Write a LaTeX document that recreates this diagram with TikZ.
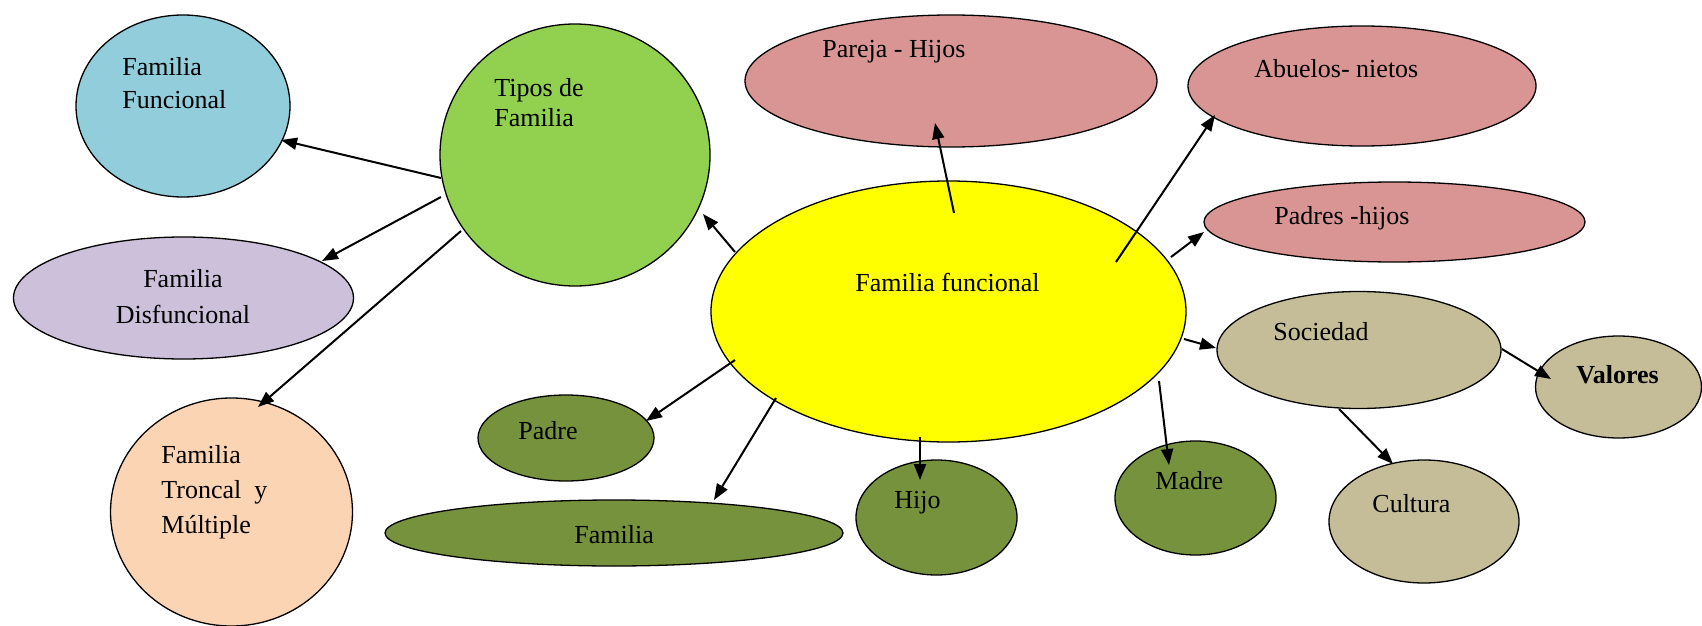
\documentclass[tikz,border=0pt]{standalone}
\usepackage{fontspec}
\setmainfont{Liberation Serif}
\usepackage{tikz}
\usetikzlibrary{arrows.meta}
\usetikzlibrary{shapes.geometric}
\usetikzlibrary{calc}
\definecolor{fblue}{HTML}{92CDDC}
\definecolor{fgreen}{HTML}{92D050}
\definecolor{flilac}{HTML}{CCC0DA}
\definecolor{fpeach}{HTML}{FBD4B4}
\definecolor{fyellow}{HTML}{FFFF00}
\definecolor{fpink}{HTML}{D99594}
\definecolor{folive}{HTML}{76923C}
\definecolor{ftan}{HTML}{C4BD97}
\begin{document}
\begin{tikzpicture}[x=0.5pt,y=-0.5pt,
		blob/.style={ellipse,draw,line width=0.65pt,inner sep=0pt,outer sep=0pt},
		txt/.style={font=\fontsize{13}{16.5}\selectfont,inner sep=0pt,align=left,anchor=west},
		link/.style={-{Triangle[length=8pt,width=6pt]},line width=1pt}
	]
	\useasboundingbox (0,0) rectangle (1702,626);

	% the ellipses
	\foreach \name/\xc/\yc/\w/\h/\col in {ff/183/106/107/91/fblue,tf/575/155/135/131/fgreen,
		fd/183.5/298/170/61/flilac,ft/231.5/512/121/114/fpeach,fam/948.5/311.5/237.5/130.5/fyellow,
		ph/951/81/206/66/fpink,an/1362/86/174/60/fpink,pdh/1394.5/222/190.5/40/fpink,
		soc/1359/350/142/58.5/ftan,val/1618.5/387/83/51/ftan,cul/1424/521.5/95/61.5/ftan,
		mad/1195.5/498/80.5/57/folive,hij/936.5/517.5/80.5/57.5/folive,pad/566/438/88/43/folive,
		fl/614/533/229/33/folive}
	\node[blob,fill=\col,minimum width=\w pt,minimum height=\h pt] (\name) at (\xc,\yc) {};

	% the texts
	\node[txt] (ff-t) at (122,83.5) {Familia\\Funcional};
	\node[txt,font=\fontsize{13}{15}\selectfont] (tf-t) at (494,103) {Tipos de\\Familia};
	\node[txt,font=\fontsize{13}{18}\selectfont,align=center,anchor=center] (fd-t) at (183,297) {Familia\\Disfuncional};
	\node[txt,font=\fontsize{13}{17.5}\selectfont] (ft-t) at (161,492) {Familia\\Troncal\ \ y\\Múltiple};
	\node[txt] (fam-t) at (855,282) {Familia funcional};
	\node[txt] (ph-t) at (822,52) {Pareja - Hijos};
	\node[txt] (an-t) at (1254,69) {Abuelos- nietos};
	\node[txt] (pdh-t) at (1274,218) {Padres -hijos};
	\node[txt] (soc-t) at (1273,332) {Sociedad};
	\node[txt] (val-t) at (1576,375) {\textbf{Valores}};
	\node[txt] (cul-t) at (1372,504) {Cultura};
	\node[txt] (mad-t) at (1155,481) {Madre};
	\node[txt] (hij-t) at (894,503) {Hijo};
	\node[txt] (pad-t) at (518,431) {Padre};
	\node[txt] (fl-t) at (574,535) {Familia};

	% the edges
	\draw[link] ($(tf)+(-134,23)$) -- ($(ff)+(98,34)$);
	\draw[link] ($(tf)+(-134,42)$) -- ($(fd)+(138.5,-37)$);
	\draw[link] ($(tf)+(-114,76)$) -- ($(ft)+(26.5,-105)$);
	\draw[link] ($(fam)+(-213.5,-59.5)$) -- ($(tf)+(128,59)$);
	\draw[link] ($(fam)+(5.5,-98.5)$) -- ($(ph)+(-16,42)$);
	\draw[link] ($(fam)+(167.5,-49.5)$) -- ($(an)+(-147,29)$);
	\draw[link] ($(fam)+(222.5,-54.5)$) -- ($(pdh)+(-190.5,10)$);
	\draw[link] ($(fam)+(235.5,27.5)$) -- ($(soc)+(-143,-2)$);
	\draw[link] ($(soc)+(143,-1)$) -- ($(val)+(-67.5,-8)$);
	\draw[link] ($(soc)+(-20,59)$) -- ($(cul)+(-31,-57.5)$);
	\draw[link] ($(fam)+(210.5,69.5)$) -- ($(mad)+(-26.5,-33)$);
	\draw[link] ($(fam)+(-28.5,125.5)$) -- ($(hij)+(-16.5,-37.5)$);
	\draw[link] ($(fam)+(-213.5,48.5)$) -- ($(pad)+(80,-17)$);
	\draw[link] ($(fam)+(-172.5,86.5)$) -- ($(fl)+(100,-33)$);
\end{tikzpicture}
\end{document}
